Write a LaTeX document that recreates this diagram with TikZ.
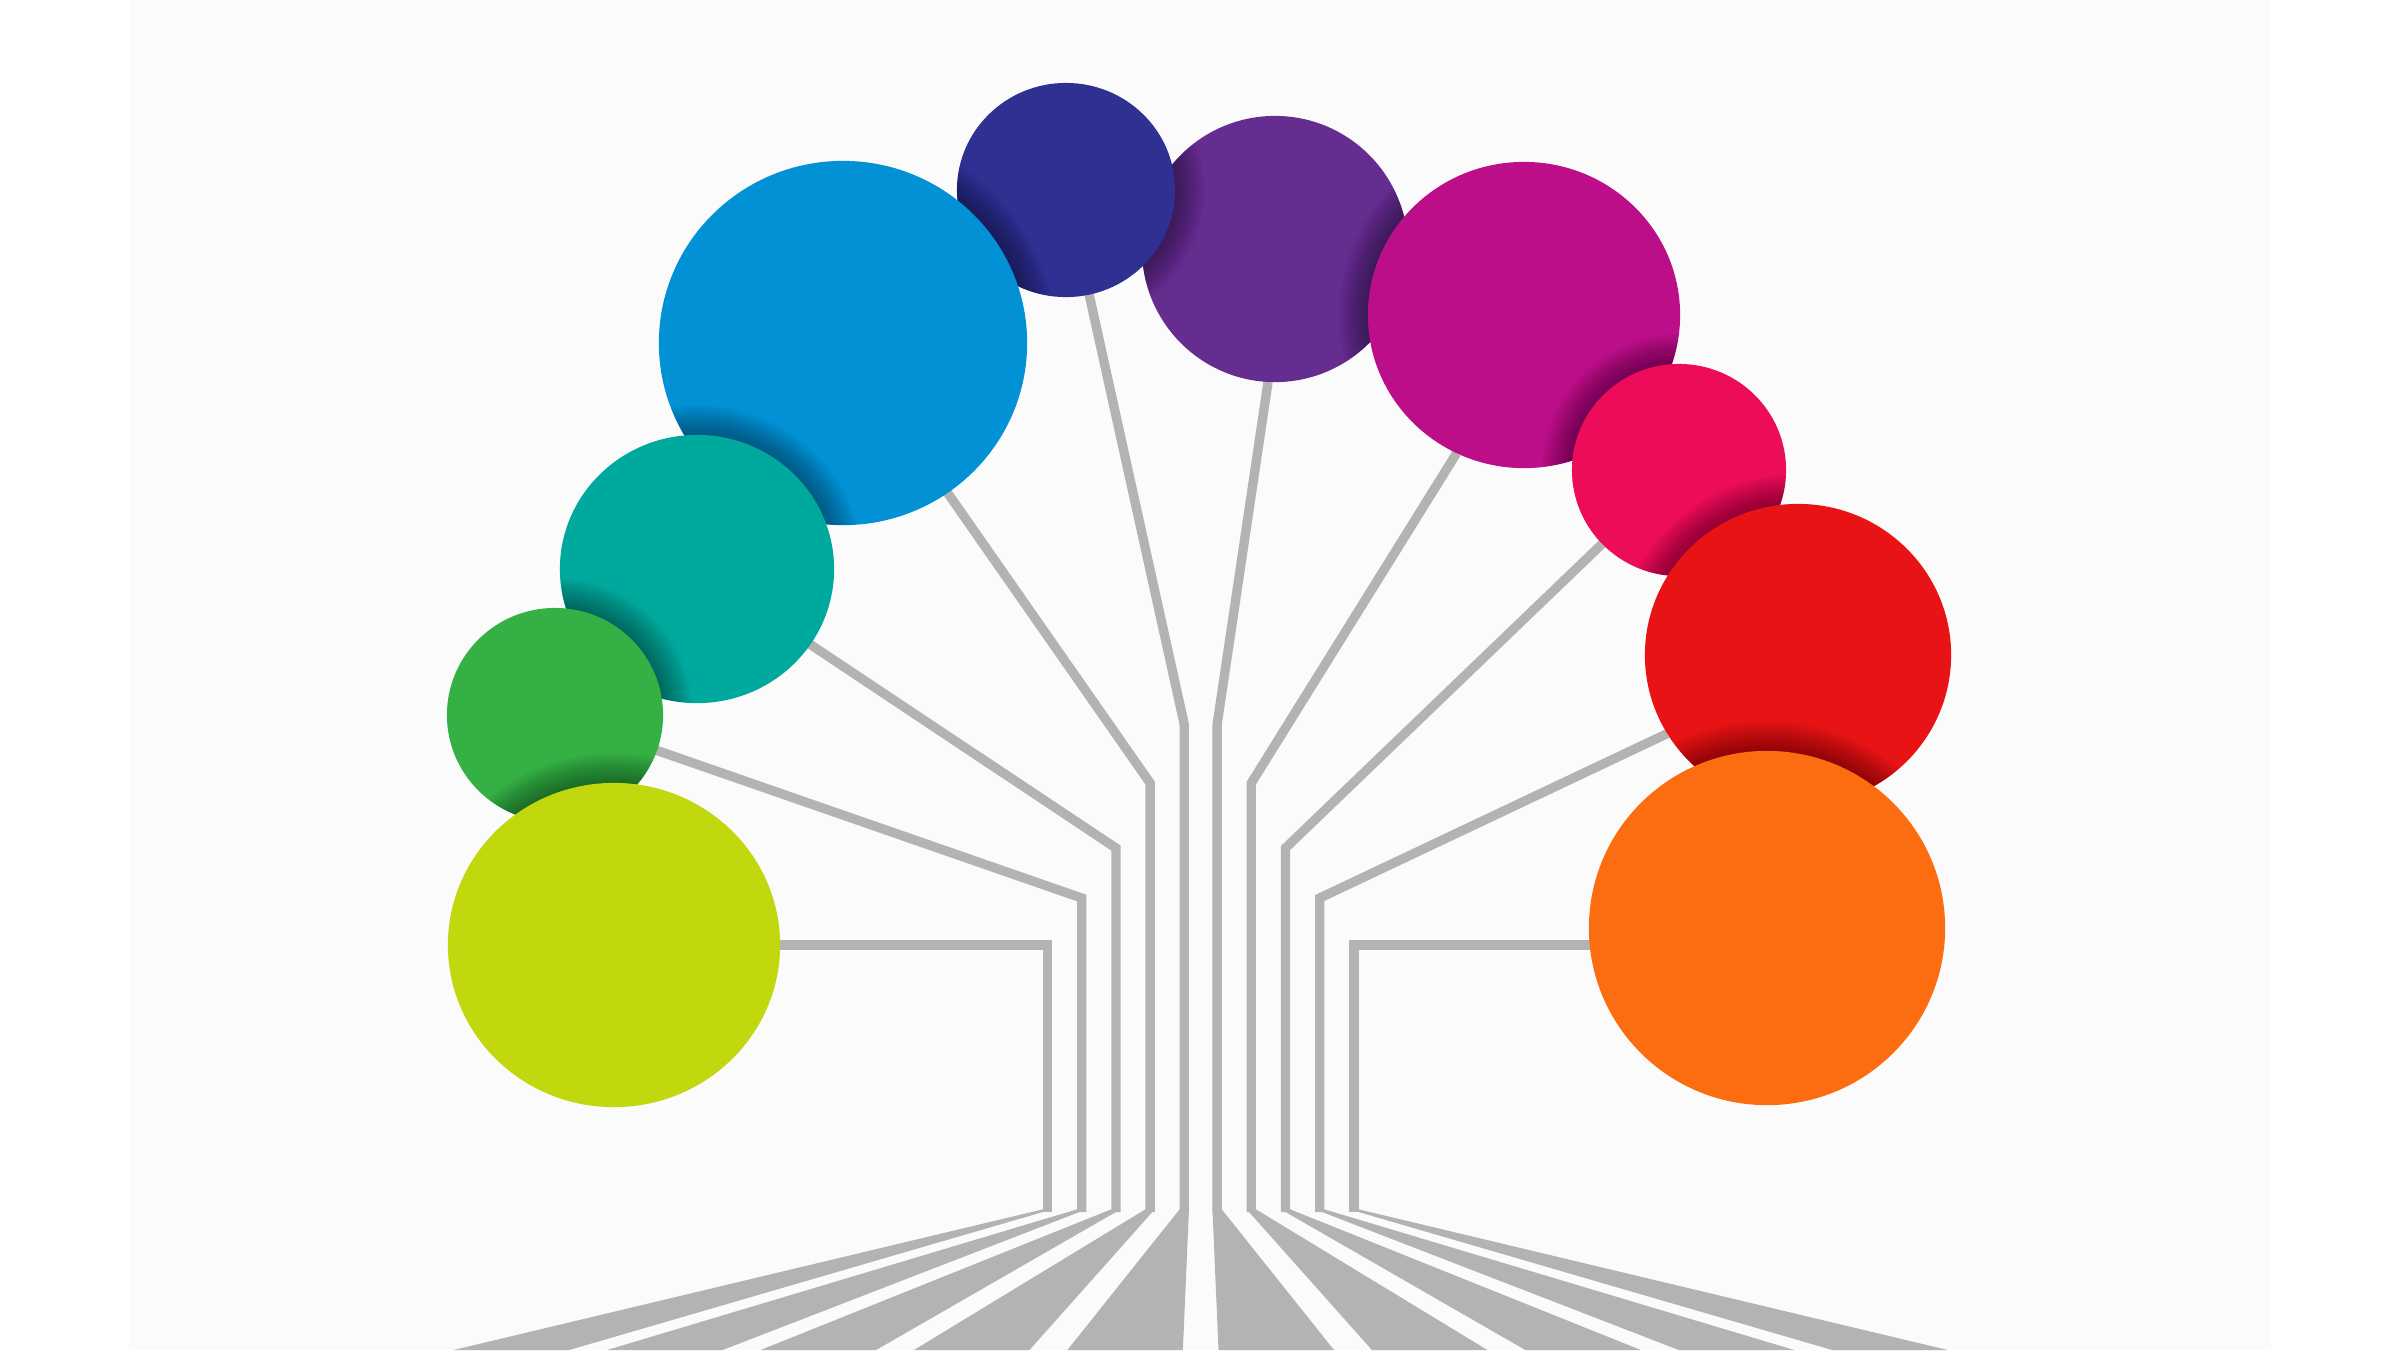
\documentclass[tikz,border=0pt]{standalone}
\usetikzlibrary{shapes.geometric,calc}
\definecolor{bgGrey}{HTML}{FBFBFB}
\definecolor{stemGrey}{HTML}{B3B3B3}
\definecolor{cYellow}{HTML}{C1D70E}
\definecolor{cGreen}{HTML}{35B044}
\definecolor{cTeal}{HTML}{00A99D}
\definecolor{cBlue}{HTML}{0291D5}
\definecolor{cIndigo}{HTML}{2E3192}
\definecolor{cPurple}{HTML}{662D91}
\definecolor{cMagenta}{HTML}{BC0E88}
\definecolor{cPink}{HTML}{ED0C5A}
\definecolor{cRed}{HTML}{E81315}
\definecolor{cOrange}{HTML}{FC6D11}
\pgfdeclarelayer{back}
\pgfsetlayers{back,main}
\begin{document}
\begin{tikzpicture}[x=0.01cm, y=-0.01cm,
		bubble/.style={ellipse, draw=none, inner sep=0pt, outer sep=0pt},
		stem/.style={draw=stemGrey, line width=0.093cm},
		flare/.style={fill=stemGrey}]
	\useasboundingbox (0,0) rectangle (2400,1350);
	\begin{pgfonlayer}{back}
		\fill[white]	(0,0) rectangle (2400,1350);
		\fill[bgGrey]	(129,0) rectangle (2271,1350);
	\end{pgfonlayer}

	% balloons, back to front; each one shades the balloon just under it
	\foreach \n/\x/\y/\rx/\ry/\c/\lx/\ly/\lrx/\lry in {
			purple/1275/249/133/133/cPurple/50/50/1/1,
			indigo/1066/190/109/107/cIndigo/1275/249/133/133,
			blue/843/343/184/182/cBlue/1066/190/109/107,
			teal/697/569/137/134/cTeal/843/343/184/182,
			green/555/715/108/107/cGreen/697/569/137/134,
			yellow/614/945/166/162/cYellow/555/715/108/107,
			magenta/1524/315/156/153/cMagenta/1275/249/133/133,
			pink/1679/470/107/106/cPink/1524/315/156/153,
			red/1798/655/153/151/cRed/1679/470/107/106,
			orange/1767/928/178/177/cOrange/1798/655/153/151} {
		\begin{scope}
			\clip (\lx,\ly) ellipse [x radius=\lrx, y radius=\lry];
			\foreach \i in {1,...,15}
				\fill[black, opacity=.026] (\x,\y) ellipse [x radius=\rx+2*\i, y radius=\ry+2*\i];
		\end{scope}
		\node[bubble, fill=\c, minimum width=\rx*0.02cm, minimum height=\ry*0.02cm] (\n) at (\x,\y) {};
	}

	% bends, feet and flaring ends of the stems, mirrored about x = 1200
	\begin{pgfonlayer}{back}
		\foreach \side/\shift/\s in {1/0cm/R, -1/24cm/L} {
			\begin{scope}[xshift=\shift, xscale=\side]
				\foreach \k/\by in {0/724.5, 1/783, 2/848, 3/898, 4/945} {
					\coordinate (b\s\k) at ({1217.1+34.2*\k}, \by);
					\coordinate (f\s\k) at ({1217.1+34.2*\k}, 1212);
					\path	({1212.45+34.2*\k}, 1209.3) coordinate (ti)
							({1221.75+34.2*\k}, 1209.3) coordinate (to)
							({1218.3+149.2*\k}, 1345) coordinate (bi)
							({1330+149.2*\k}, 1345) coordinate (bo);
					\fill[flare] (ti) -- (to) -- ($(to)!1.037!(bo)$) -- ($(ti)!1.037!(bi)$) -- cycle;
				}
			\end{scope}
		}

		\draw[stem]	(indigo.center) -- (bL0) -- (fL0);
		\draw[stem]	(blue.center) -- (bL1) -- (fL1);
		\draw[stem]	(teal.center) -- (bL2) -- (fL2);
		\draw[stem]	(green.center) -- (bL3) -- (fL3);
		\draw[stem]	(bL4 -| yellow.center) -- (bL4) -- (fL4);

		\draw[stem]	(purple.-93) -- (bR0) -- (fR0);
		\draw[stem]	(magenta.-116) -- (bR1) -- (fR1);
		\draw[stem]	(pink.center) -- (bR2) -- (fR2);
		\draw[stem]	(red.-149) -- (bR3) -- (fR3);
		\draw[stem]	(bR4 -| orange.center) -- (bR4) -- (fR4);
	\end{pgfonlayer}
\end{tikzpicture}
\end{document}
